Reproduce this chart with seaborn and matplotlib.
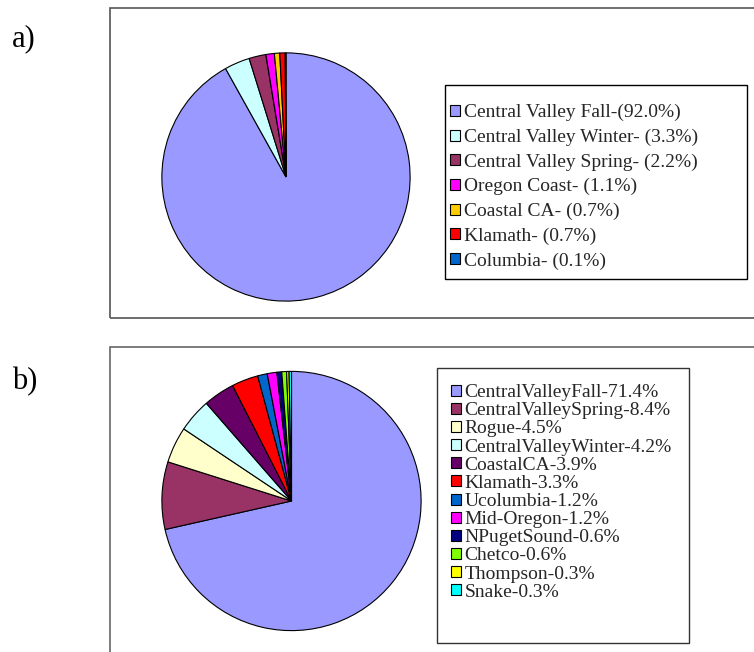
import matplotlib
matplotlib.use("Agg")
import matplotlib.pyplot as plt
import seaborn as sns
from matplotlib.patches import Rectangle, Patch

# Stock composition, panel a
names_a = ["Central Valley Fall", "Central Valley Winter", "Central Valley Spring",
           "Oregon Coast", "Coastal CA", "Klamath", "Columbia"]
values_a = [92.0, 3.3, 2.2, 1.1, 0.7, 0.7, 0.1]
colors_a = ["#9999FF", "#CCFFFF", "#993366", "#FF00FF", "#FFCC00", "#FF0000", "#0066CC"]

# Stock composition, panel b
names_b = ["CentralValleyFall", "CentralValleySpring", "Rogue", "CentralValleyWinter",
           "CoastalCA", "Klamath", "Ucolumbia", "Mid-Oregon", "NPugetSound",
           "Chetco", "Thompson", "Snake"]
values_b = [71.4, 8.4, 4.5, 4.2, 3.9, 3.3, 1.2, 1.2, 0.6, 0.6, 0.3, 0.3]
colors_b = ["#9999FF", "#993366", "#FFFFCC", "#CCFFFF", "#660066", "#FF0000",
            "#0066CC", "#FF00FF", "#000080", "#80FF00", "#FFFF00", "#00FFFF"]

labels_a = [f"{n}-{'' if i == 0 else ' '}({v:.1f}%)" for i, (n, v) in enumerate(zip(names_a, values_a))]
labels_b = [f"{n}-{v:.1f}%" for n, v in zip(names_b, values_b)]

sns.set_theme(style="white")
plt.rcParams["font.family"] = ["Liberation Serif", "DejaVu Serif"]

W, H = 754, 652
fig = plt.figure(figsize=(W / 100, H / 100), dpi=100)


def rect(x0, y0, x1, y1):
    """Figure-fraction rectangle from pixel corners (origin top-left)."""
    return [x0 / W, 1 - y1 / H, (x1 - x0) / W, (y1 - y0) / H]


def frame(x0, y0, x1, y1, color, lw):
    fig.patches.append(Rectangle((x0 / W, 1 - y1 / H), (x1 - x0) / W, (y1 - y0) / H,
                                 transform=fig.transFigure, fill=False,
                                 edgecolor=color, linewidth=lw))


# Panel borders and legend boxes
frame(110, 8, 770, 318, "#555555", 1.2)
frame(110, 347, 770, 670, "#666666", 1.2)
frame(445, 85, 747, 279, "black", 1.0)
frame(437, 368, 689, 643, "#333333", 1.0)


def draw_pie(box, values, colors):
    ax = fig.add_axes(rect(*box))
    ax.pie(values, colors=colors, startangle=90, counterclock=False,
           wedgeprops=dict(edgecolor="black", linewidth=0.8))
    ax.set_xlim(-1.003, 1.003)
    ax.set_ylim(-1.003, 1.003)
    ax.set_aspect("equal")
    ax.axis("off")
    return ax


draw_pie((161.5, 52.5, 410.5, 301.5), values_a, colors_a)
draw_pie((161.5, 371, 421.5, 631), values_b, colors_b)


def legend(names, colors, anchor, spacing):
    handles = [Patch(facecolor=c, edgecolor="black", linewidth=0.8) for c in colors]
    fig.legend(handles, names, loc="upper left",
               bbox_to_anchor=(anchor[0] / W, 1 - anchor[1] / H),
               bbox_transform=fig.transFigure, frameon=False,
               borderpad=0, borderaxespad=0, prop={"size": 14},
               labelspacing=spacing, handlelength=0.5, handleheight=0.5,
               handletextpad=0.2)


legend(labels_a, colors_a, (450, 104), 0.38)
legend(labels_b, colors_b, (451, 384), 0.06)

fig.text(12 / W, 1 - 39 / H, "a)", fontsize=22, va="center", ha="left", color="black")
fig.text(12 / W, 1 - 382 / H, "b)", fontsize=22, va="center", ha="left", color="black")

fig.savefig("out.png", dpi=100)
